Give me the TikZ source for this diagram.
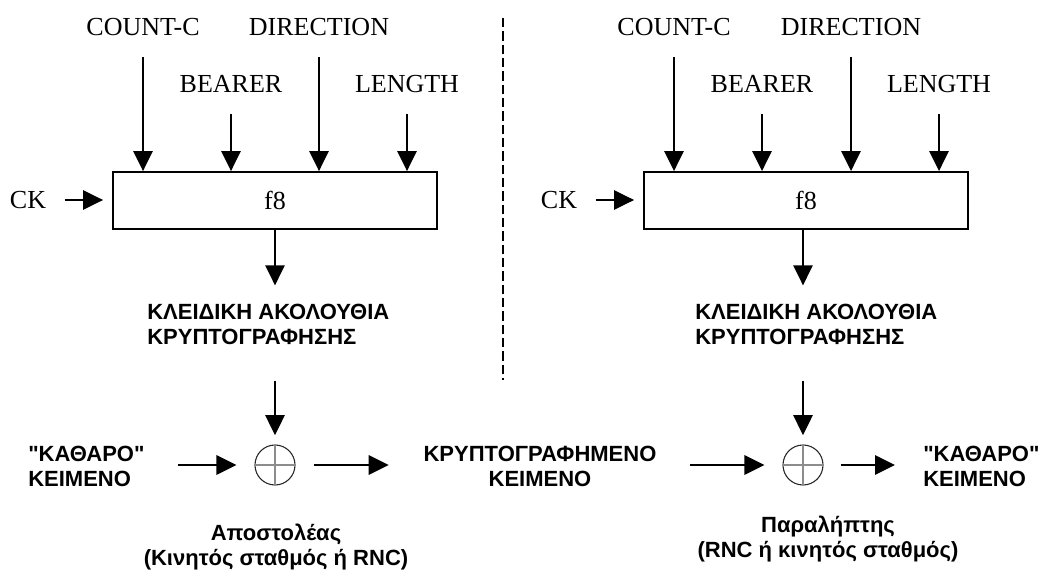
\documentclass[tikz,border=0pt]{standalone}
\usepackage{fontspec}
\setmainfont{Liberation Serif}
\newfontfamily\grsans{Liberation Sans}
\usetikzlibrary{arrows.meta}

\begin{document}
\begin{tikzpicture}[x=0.75pt,y=-0.75pt,
  inlbl/.style={font=\fontsize{19.5}{22}\selectfont, inner sep=0pt, outer ysep=16pt},
  cklbl/.style={font=\fontsize{19.5}{22}\selectfont, inner sep=0pt, outer xsep=14pt},
  fbox/.style={draw, line width=1.4pt, minimum width=243pt, minimum height=42.75pt,
               inner sep=0pt, font=\fontsize{19.5}{22}\selectfont},
  arr/.style={line width=1.4pt, -{Triangle[width=14.5pt,length=15pt]}},
  gtxt/.style={font=\grsans\bfseries\fontsize{16.5}{18.75}\selectfont, inner sep=0pt},
  xor/.style={circle, draw=black!85, line width=0.8pt, minimum size=30pt, inner sep=0pt},
  xcross/.style={draw=black!45, line width=1.1pt},
  divider/.style={line width=1.4pt, dash pattern=on 7pt off 3pt},
]
\useasboundingbox (0,0) rectangle (1050,574);

% ---------------- sender side ----------------
\node[fbox] (boxL) at (275,200.5) {f8};
\node[inlbl] (cntL) at (143,27) {COUNT-C};
\node[inlbl] (dirL) at (319,27) {DIRECTION};
\node[inlbl] (berL) at (231,84) {BEARER};
\node[inlbl] (lenL) at (407,84) {LENGTH};
\node[cklbl] (ckL) at (28,200) {CK};

\foreach \n in {cntL,dirL,berL,lenL}
  \draw[arr] (\n.south) -- (\n.south |- boxL.north);
\draw[arr, shorten >=6.75pt] (ckL.east) -- (boxL.west |- ckL.east);

\node[gtxt, align=left, anchor=north west] (keyL) at (147,304)
  {ΚΛΕΙΔΙΚΗ ΑΚΟΛΟΥΘΙΑ\\ΚΡΥΠΤΟΓΡΑΦΗΣΗΣ};
\node[xor] (xorL) at (275,465) {};
\draw[xcross] (xorL.north) -- (xorL.south) (xorL.west) -- (xorL.east);
\draw[arr, shorten >=14pt] (boxL.south) -- (boxL.south |- keyL.north);
\draw[arr, shorten <=27pt, shorten >=7pt] (xorL |- keyL.south) -- (xorL.north);

\node[gtxt, align=left, anchor=west] (plainL) at (28,466)
  {"ΚΑΘΑΡΟ"\\ΚΕΙΜΕΝΟ};
\node[gtxt, align=center] (crypt) at (540,466)
  {ΚΡΥΠΤΟΓΡΑΦΗΜΕΝΟ\\ΚΕΙΜΕΝΟ};
\draw[arr, shorten <=24.75pt, shorten >=13.5pt] (plainL.east |- xorL) -- (xorL.west);
\draw[arr, shorten <=13.5pt, shorten >=26pt] (xorL.east) -- (crypt.west |- xorL);

\node[gtxt, align=center, anchor=north] (sndL) at (276,524)
  {Αποστολέας\\(Κινητός σταθμός ή RNC)};

% ---------------- divider ----------------
\coordinate (dtop) at (503,18);
\coordinate (dbot) at (503,380);
\draw[divider] (dtop) -- (dbot);

% ---------------- receiver side ----------------
\node[fbox] (boxR) at (806,200.5) {f8};
\node[inlbl] (cntR) at (674,27) {COUNT-C};
\node[inlbl] (dirR) at (851,27) {DIRECTION};
\node[inlbl] (berR) at (762,84) {BEARER};
\node[inlbl] (lenR) at (939,84) {LENGTH};
\node[cklbl] (ckR) at (559,200) {CK};

\foreach \n in {cntR,dirR,berR,lenR}
  \draw[arr] (\n.south) -- (\n.south |- boxR.north);
\draw[arr, shorten >=6.75pt] (ckR.east) -- (boxR.west |- ckR.east);

\node[gtxt, align=left, anchor=north west] (keyR) at (695,304)
  {ΚΛΕΙΔΙΚΗ ΑΚΟΛΟΥΘΙΑ\\ΚΡΥΠΤΟΓΡΑΦΗΣΗΣ};
\node[xor] (xorR) at (803,465) {};
\draw[xcross] (xorR.north) -- (xorR.south) (xorR.west) -- (xorR.east);
\draw[arr, shorten >=14pt] (boxR.south -| xorR) -- (xorR |- keyR.north);
\draw[arr, shorten <=27pt, shorten >=7pt] (xorR |- keyR.south) -- (xorR.north);

\node[gtxt, align=left, anchor=west] (plainR) at (923,466)
  {"ΚΑΘΑΡΟ"\\ΚΕΙΜΕΝΟ};
\draw[arr, shorten <=24.75pt, shorten >=13.5pt] (crypt.east |- xorR) -- (xorR.west);
\draw[arr, shorten <=12.75pt, shorten >=21pt] (xorR.east) -- (plainR.west |- xorR);

\node[gtxt, align=center, anchor=north] (rcvR) at (828,516)
  {Παραλήπτης\\(RNC ή κινητός σταθμός)};
\end{tikzpicture}
\end{document}
